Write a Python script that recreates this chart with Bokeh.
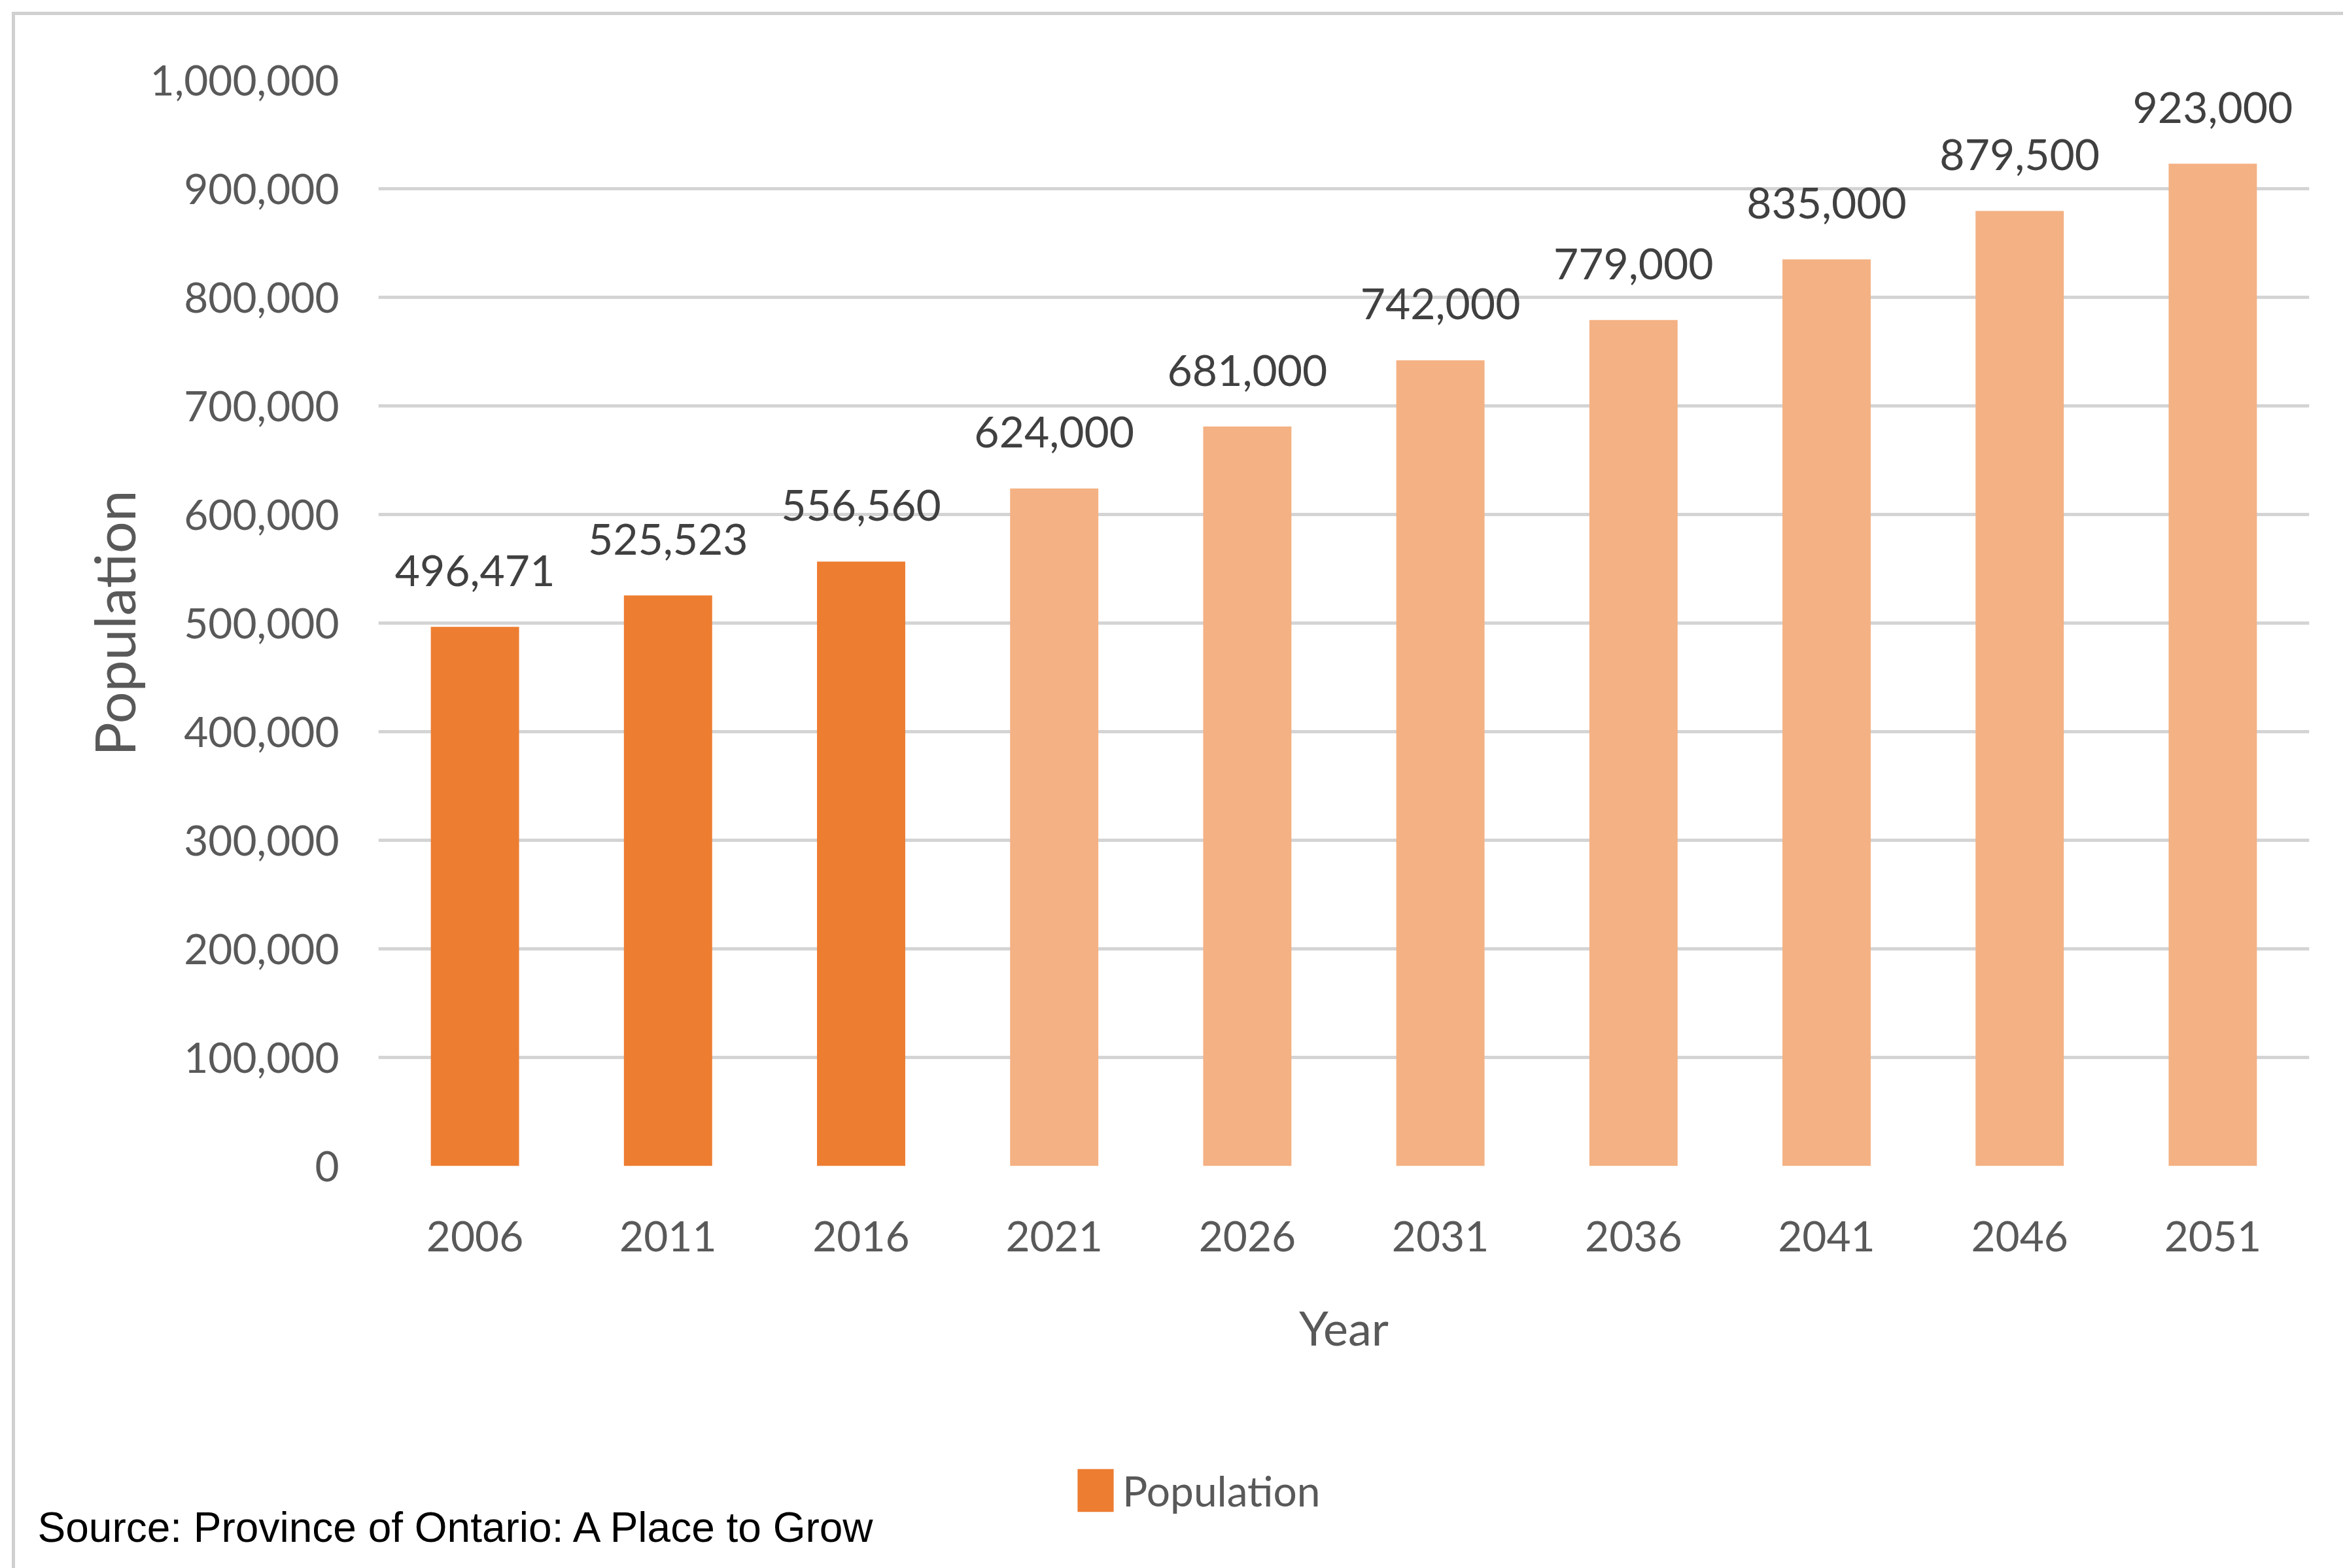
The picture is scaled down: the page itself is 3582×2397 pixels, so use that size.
from bokeh.plotting import figure
from bokeh.layouts import column
from bokeh.models import (ColumnDataSource, FactorRange, Range1d, FixedTicker,
                          NumeralTickFormatter, Legend, LegendItem, Label)
from bokeh.transform import factor_cmap
from bokeh.core.properties import value
from bokeh.embed import file_html
from bokeh.resources import INLINE

# ---- data ----
years = ["2006", "2011", "2016", "2021", "2026", "2031", "2036", "2041", "2046", "2051"]
population = [496471, 525523, 556560, 624000, 681000, 742000, 779000, 835000, 879500, 923000]
status = ["historic", "historic", "historic", "projected", "projected", "projected",
          "projected", "projected", "projected", "projected"]
y_ticks = [0, 100000, 200000, 300000, 400000, 500000, 600000, 700000, 800000, 900000, 1000000]
x_title = "Year"
y_title = "Population"
legend_label = "Population"
source_note = "Source: Province of Ontario: A Place to Grow"

labels = [f"{v:,}" for v in population]
src = ColumnDataSource(dict(year=years, pop=population, status=status, label=labels))

PAGE_W, PAGE_H = 3582, 2397
OFF = 23                      # left/top border offset (margin + border line)
W = PAGE_W - OFF
MAIN_H = 2200 - OFF
STRIP_H = PAGE_H - 2200
FL, FR, FT, FB = 578 - OFF, 3530 - OFF, 122 - OFF, 1782 - OFF  # frame edges

FONT = "Lato"
HIST, PROJ = "#ED7D31", "#F4B183"

p = figure(width=W, height=MAIN_H, x_range=FactorRange(*years, range_padding=0),
           y_range=Range1d(0, 1000000), output_backend="svg", toolbar_location=None,
           min_border_left=FL, min_border_right=W - FR, min_border_top=FT,
           min_border_bottom=MAIN_H - FB)
p.outline_line_color = None

r = p.vbar(x="year", top="pop", width=0.457, source=src, line_color=None,
           fill_color=factor_cmap("status", palette=[HIST, PROJ],
                                  factors=["historic", "projected"]))

p.text(x="year", y="pop", text="label", source=src, text_align="center",
       text_baseline="alphabetic", y_offset=-86, text_font=value(FONT),
       text_font_size="66px", text_color="#404040")

# axes
p.xgrid.grid_line_color = None
p.ygrid.grid_line_color = "#D4D4D4"
p.ygrid.grid_line_width = 5
p.yaxis.ticker = FixedTicker(ticks=y_ticks)
p.yaxis.formatter = NumeralTickFormatter(format="0,0")
for ax in (p.xaxis[0], p.yaxis[0]):
    ax.axis_line_color = None
    ax.major_tick_line_color = None
    ax.minor_tick_line_color = None
    ax.major_tick_out = 0
    ax.major_tick_in = 0
    ax.major_label_text_font = FONT
    ax.major_label_text_font_size = "64px"
    ax.major_label_text_color = "#595959"
    ax.axis_label_text_color = "#595959"
    ax.axis_label_text_font = FONT
    ax.axis_label_text_font_style = "normal"

p.xaxis.major_label_standoff = 84
p.xaxis.axis_label = x_title
p.xaxis.axis_label_text_font_size = "72px"
p.xaxis.axis_label_standoff = 70

p.yaxis.major_label_standoff = 60
p.yaxis.axis_label = y_title
p.yaxis.axis_label_text_font_size = "86px"
p.yaxis.axis_label_standoff = 2

# ---- bottom strip: legend and source note (frame covers the whole strip) ----
s = figure(width=W, height=STRIP_H, x_range=Range1d(0, W), y_range=Range1d(0, STRIP_H),
           output_backend="svg", toolbar_location=None,
           min_border_left=0, min_border_right=0, min_border_top=0, min_border_bottom=0)
if "frame_align" in s.properties():
    s.frame_align = False
s.axis.visible = False
s.grid.visible = False
s.outline_line_color = None
lr = s.vbar(x=[float("nan")], top=[float("nan")], width=1, fill_color=HIST, line_color=None)
legend = Legend(items=[LegendItem(label=legend_label, renderers=[lr], index=0)],
                location=(1640 - OFF, PAGE_H - 2319), orientation="horizontal",
                glyph_width=69, glyph_height=82, label_height=82, label_standoff=7,
                label_text_font=FONT, label_text_font_size="64px",
                label_text_color="#595959", padding=0, margin=0, spacing=0,
                border_line_color=None, background_fill_alpha=0)
s.add_layout(legend, "center")
s.add_layout(Label(x=57 - OFF, y=63, text=source_note,
                   text_font="Liberation Sans", text_font_size="64px",
                   text_color="black", text_baseline="alphabetic"))

layout = column(p, s, spacing=0,
                styles={"margin-left": "18px", "margin-top": "18px",
                        "border-left": "5px solid #D0D0D0",
                        "border-top": "5px solid #D0D0D0"})

open("out.html", "w").write(file_html(layout, INLINE))
